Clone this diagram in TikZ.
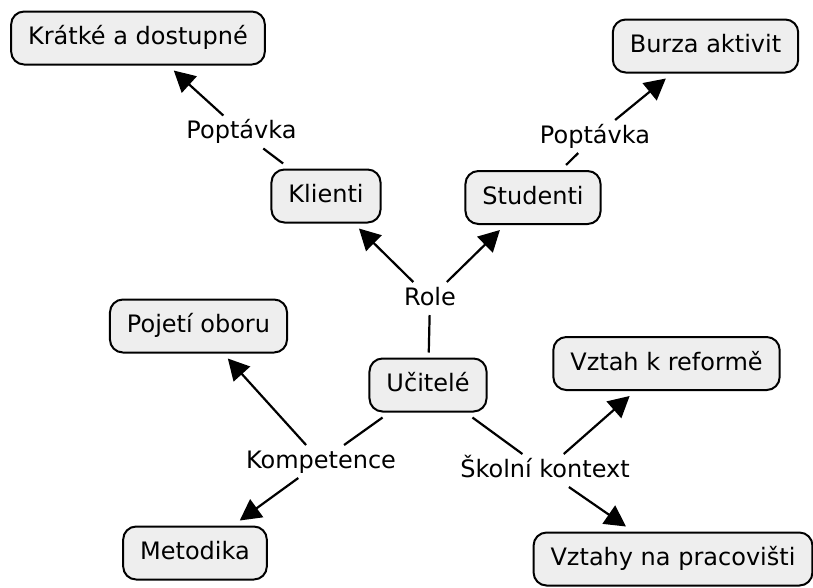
\documentclass[tikz,border=0pt]{standalone}
\usepackage{fontspec}
\setmainfont{DejaVu Sans}
\usetikzlibrary{arrows.meta}
\definecolor{boxfill}{RGB}{238,238,238}
\begin{document}
\begin{tikzpicture}[x=1pt,y=-1pt,
  every node/.style={font=\fontsize{24}{28}\selectfont, text height=18pt, text depth=5pt},
  concept/.style={draw=black, line width=2pt, fill=boxfill, rounded corners=13pt,
                  inner xsep=17pt, inner ysep=15pt, outer sep=6pt},
  linkword/.style={inner sep=2pt, outer sep=3pt, anchor=base},
  link/.style={line width=2.2pt},
  linkarrow/.style={line width=2.2pt, -{Triangle[length=21pt,width=22pt]}}]
\useasboundingbox (0,0) rectangle (813,587);

% concepts
\node[concept] (ucitele)  at (428,385)   {Učitelé};
\node[concept] (kratke)   at (138,38)    {Krátké a dostupné};
\node[concept] (burza)    at (705.5,46)  {Burza aktivit};
\node[concept] (klienti)  at (326,196)   {Klienti};
\node[concept] (studenti) at (533,197.5) {Studenti};
\node[concept] (pojeti)   at (198.5,326) {Pojetí oboru};
\node[concept] (reforma)  at (666.5,363.5) {Vztah k reformě};
\node[concept] (metodika) at (195,553)   {Metodika};
\node[concept] (vztahy)   at (673,559)   {Vztahy na pracovišti};

% linking phrases
\node[linkword] (role)   at (430,305) {Role};
\node[linkword] (poptL)  at (241.5,138.5) {Poptávka};
\node[linkword] (poptR)  at (595,143) {Poptávka};
\node[linkword] (komp)   at (321,468) {Kompetence};
\node[linkword] (skolni) at (545,477) {Školní kontext};

% connections
\draw[link] (ucitele) -- (role);
\draw[linkarrow] (role) -- (klienti);
\draw[linkarrow] (role) -- (studenti);
\draw[link] (klienti) -- (poptL);
\draw[linkarrow] (poptL) -- (kratke);
\draw[link] (studenti) -- (poptR);
\draw[linkarrow] (poptR) -- (burza);
\draw[link] (ucitele) -- (komp);
\draw[linkarrow] (komp) -- (pojeti);
\draw[linkarrow] (komp) -- (metodika);
\draw[link] (ucitele) -- (skolni);
\draw[linkarrow] (skolni) -- (reforma);
\draw[linkarrow] (skolni) -- (vztahy);
\end{tikzpicture}
\end{document}
